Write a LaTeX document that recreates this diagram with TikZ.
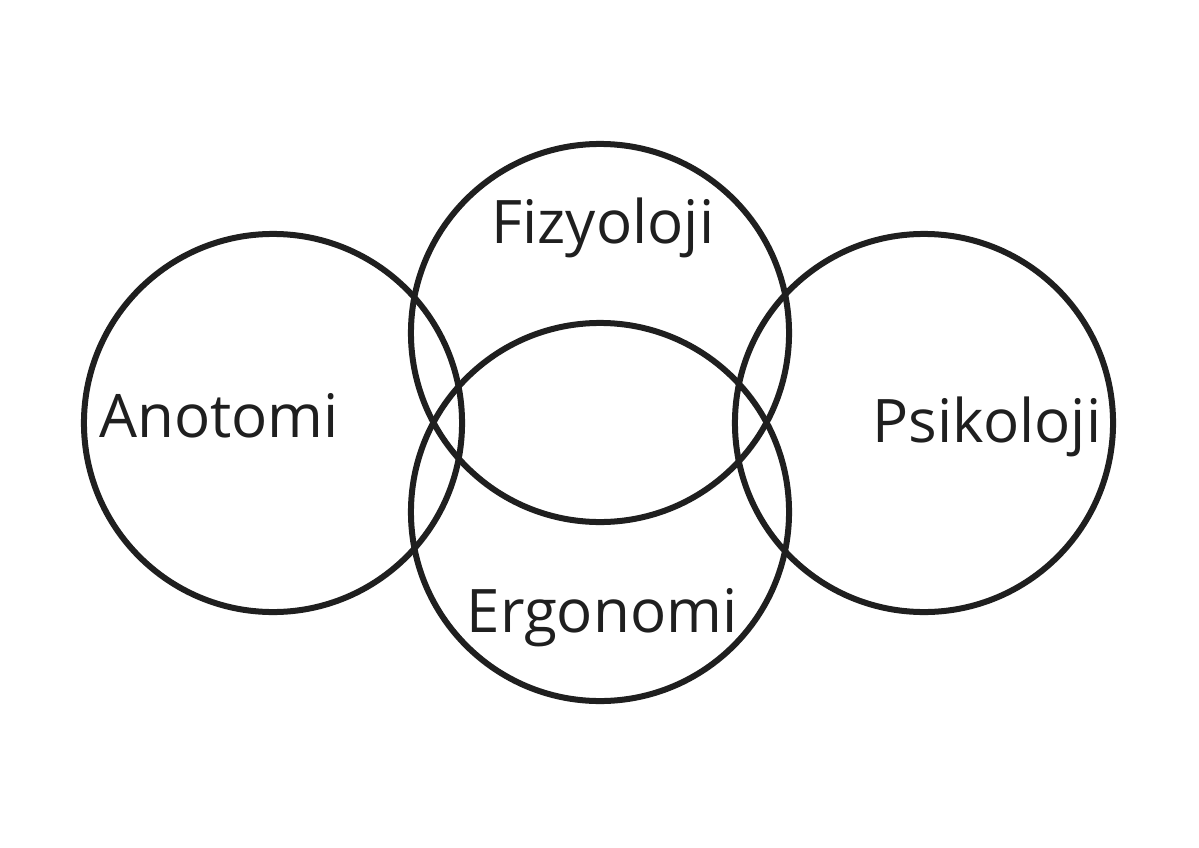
\documentclass[tikz,border=0pt]{standalone}
\usepackage{fontspec}
\setmainfont{Open Sans}
\tikzset{ring/.style={circle, draw=black!88, line width=0.15cm, minimum size=9.45cm, inner sep=0pt},
         word/.style={anchor=base, inner sep=0pt, text=black!88, font=\fontsize{42.7}{50}\selectfont}}

\begin{document}
\begin{tikzpicture}[x=0.025cm,y=-0.025cm]
  \useasboundingbox (0,0) rectangle (1199,848);
  % circles
  \node[ring] (anatomy)    at (273,423) {};
  \node[ring] (physiology) at (600,333) {};
  \node[ring] (ergonomics) at (600,512) {};
  \node[ring] (psychology) at (924,423) {};
  % labels
  \node[word] (anatomytext)    at (219,437) {Anotomi};
  \node[word] (physiologytext) at (603,243) {Fizyoloji};
  \node[word] (ergonomicstext) at (602,632) {Ergonomi};
  \node[word] (psychologytext) at (987,442) {Psikoloji};
\end{tikzpicture}
\end{document}
